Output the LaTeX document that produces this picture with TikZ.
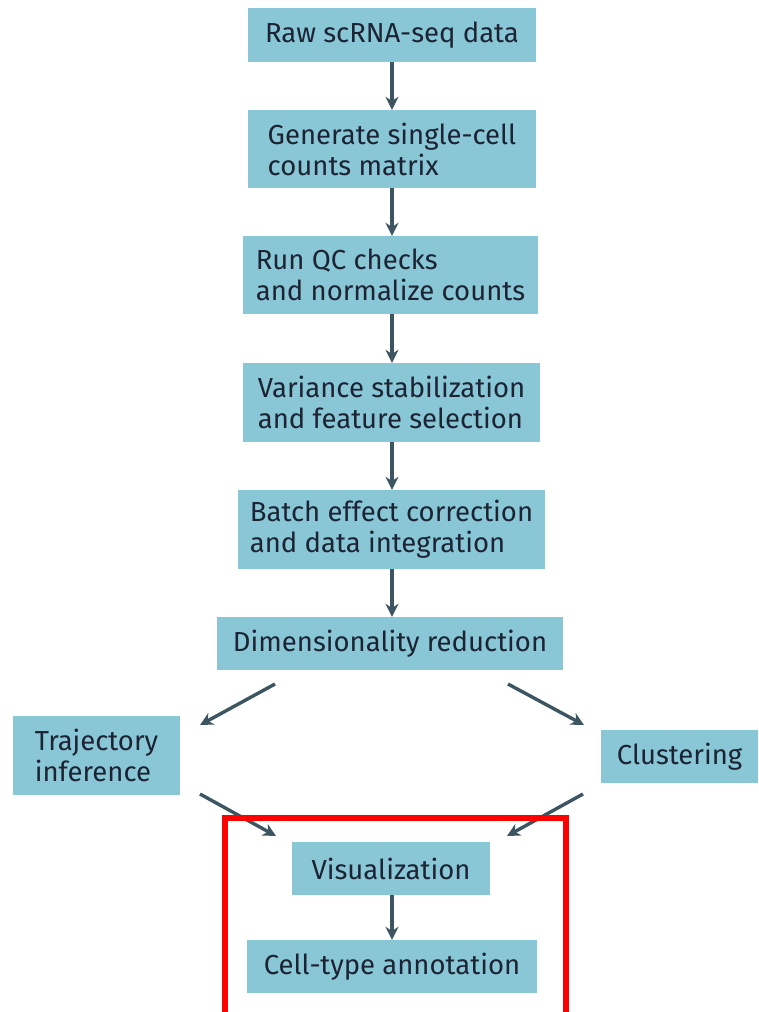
\documentclass[tikz,border=0pt]{standalone}
\usepackage{fontspec}
\setmainfont{Fira Sans}
\usetikzlibrary{arrows.meta}
\definecolor{boxfill}{HTML}{89C7D6}
\definecolor{arrowc}{HTML}{3D5560}
\definecolor{txt}{HTML}{1C2333}
\begin{document}
\begin{tikzpicture}[x=1pt,y=-1pt,
  stepbox/.style={rectangle, fill=boxfill, inner sep=0pt, align=left, text=txt,
    font=\fontsize{27.5}{31}\selectfont},
  flow/.style={draw=arrowc, line width=3.4pt, -{Stealth[length=13pt,width=13pt]}}]
\useasboundingbox (0,0) rectangle (758,1012);
\node[stepbox, minimum width=288, minimum height=54] (A) at (392,35) {Raw scRNA-seq data};
\node[stepbox, minimum width=288, minimum height=78] (B) at (392,149) {Generate single-cell\\counts matrix};
\node[stepbox, minimum width=295, minimum height=78] (C) at (390.5,275) {Run QC checks\\and normalize counts};
\node[stepbox, minimum width=297, minimum height=79] (D) at (391.5,402.5) {Variance stabilization\\and feature selection};
\node[stepbox, minimum width=307, minimum height=79] (E) at (391.5,529.5) {Batch effect correction\\and data integration};
\node[stepbox, minimum width=346, minimum height=53] (F) at (390,643.5) {Dimensionality reduction};
\node[stepbox, minimum width=167, minimum height=79] (G) at (96.5,755.5) {Trajectory\\inference};
\node[stepbox, minimum width=157, minimum height=53] (H) at (679.5,756.5) {Clustering};
\node[stepbox, minimum width=198, minimum height=53] (I) at (391,868.5) {Visualization};
\node[stepbox, minimum width=290, minimum height=53] (J) at (392,966.5) {Cell-type annotation};
\draw[flow] (A.south -| 392,0) -- (B.north -| 392,0);
\draw[flow] (B.south -| 392,0) -- (C.north -| 392,0);
\draw[flow] (C.south -| 392,0) -- (D.north -| 392,0);
\draw[flow] (D.south -| 392,0) -- (E.north -| 392,0);
\draw[flow] (E.south -| 392,0) -- (F.north -| 392,0);
\draw[flow] (I.south -| 392,0) -- (J.north -| 392,0);
\coordinate (fg1) at (275,684); \coordinate (fg2) at (200,725);
\coordinate (fh1) at (508,684); \coordinate (fh2) at (584,725);
\coordinate (gi1) at (200,794); \coordinate (gi2) at (276,836);
\coordinate (hi1) at (583,794); \coordinate (hi2) at (507,836);
\draw[flow] (fg1) -- (fg2);
\draw[flow] (fh1) -- (fh2);
\draw[flow] (gi1) -- (gi2);
\draw[flow] (hi1) -- (hi2);
\draw[red, line width=6pt] (224.5,818) rectangle (565.5,1015);
\end{tikzpicture}
\end{document}
